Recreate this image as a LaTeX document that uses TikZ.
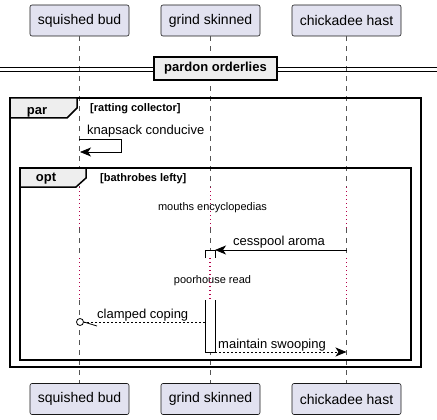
\documentclass[tikz,border=0pt]{standalone}
\usepackage{fontspec}
\setmainfont{Liberation Sans}
\usetikzlibrary{arrows.meta}
\definecolor{partfill}{HTML}{E2E2F0}
\definecolor{partdraw}{HTML}{181818}
\definecolor{tabfill}{HTML}{EEEEEE}
\definecolor{delaycol}{HTML}{B4004A}
\definecolor{lifecol}{HTML}{555555}
\begin{document}
\begin{tikzpicture}[x=1pt,y=-1pt,
  part/.style={draw=partdraw, line width=0.6pt, fill=partfill, rounded corners=2pt,
    minimum height=31pt, inner sep=0pt, font=\fontsize{14}{16}\selectfont},
  lifeline/.style={draw=lifecol, line width=0.6pt, dash pattern=on 5pt off 5pt},
  delayline/.style={draw=delaycol, line width=1.1pt, dash pattern=on 1.1pt off 2.9pt},
  frame/.style={draw=black, line width=1.5pt},
  tab/.style={draw=black, line width=1.5pt, fill=tabfill},
  msg/.style={draw=black, line width=0.8pt},
  rmsg/.style={draw=black, line width=0.8pt, dash pattern=on 2pt off 2pt},
  tip/.style={-{Stealth[length=11pt,width=9pt,inset=3pt]}},
  lbl/.style={anchor=base west, inner sep=0pt, font=\fontsize{13}{15}\selectfont},
  cond/.style={anchor=base west, inner sep=0pt, font=\fontsize{11}{13}\selectfont\bfseries},
  dlbl/.style={anchor=base, inner sep=0pt, font=\fontsize{11}{13}\selectfont},
  tabtxt/.style={anchor=base, inner sep=0pt, font=\fontsize{13}{15}\selectfont\bfseries},
  act/.style={draw=black, line width=0.8pt, fill=white}
]
\useasboundingbox (0,0) rectangle (437,420);

% participants
\node[part, minimum width=99pt] (p1) at (79.5,20.5) {squished bud};
\node[part, minimum width=99pt] (p2) at (210.5,20.5) {grind skinned};
\node[part, minimum width=109pt] (p3) at (346.5,20.5) {chickadee hast};
\node[part, minimum width=99pt] (q1) at (79.5,399) {squished bud};
\node[part, minimum width=99pt] (q2) at (210.5,399) {grind skinned};
\node[part, minimum width=109pt] (q3) at (346.5,399) {chickadee hast};

% delay boundaries
\coordinate (da) at (0,187);
\coordinate (db) at (0,228);
\coordinate (dc) at (0,258);
\coordinate (dd) at (0,300);

% lifelines
\foreach \p/\q in {p1/q1,p2/q2,p3/q3}{
  \draw[lifeline] (\p.south) -- (\p.south |- da);
  \draw[delayline] (\p.south |- da) -- (\p.south |- db);
  \draw[lifeline] (\p.south |- db) -- (\p.south |- dc);
  \draw[delayline] (\p.south |- dc) -- (\p.south |- dd);
  \draw[lifeline] (\p.south |- dd) -- (\q.north);
}

% divider
\draw[line width=0.9pt] (0,67) -- (437,67) (0,71.5) -- (437,71.5);
\node[draw=black, line width=1.6pt, fill=tabfill, minimum width=123pt, minimum height=23pt,
  inner sep=0pt, font=\fontsize{13}{15}\selectfont\bfseries] (div) at (215.5,68.5) {pardon orderlies};

% par frame
\draw[frame] (10,98) rectangle (421,367);
\draw[tab] (10,98) -- (77,98) -- (77,108) -- (67,118) -- (10,118) -- cycle;
\node[tabtxt] (partxt) at (37,114) {par};
\node[cond] (parcond) at (90,111) {[ratting collector]};

% self message
\coordinate (s1) at (79,139);
\coordinate (s2) at (121,139);
\coordinate (s3) at (121,152);
\coordinate (s4) at (80,152);
\node[lbl] (m1) at (87,135) {knapsack conducive};
\draw[msg, tip] (s1) -- (s2) -- (s3) -- (s4);

% opt frame
\draw[frame] (20,168) rectangle (411,360);
\draw[tab] (20,168) -- (86,168) -- (86,178) -- (76,187) -- (20,187) -- cycle;
\node[tabtxt] (opttxt) at (46,182) {opt};
\node[cond] (optcond) at (100,182) {[bathrobes lefty]};

% delay texts
\node[dlbl] (d1) at (212.5,210) {mouths encyclopedias};
\node[dlbl] (d2) at (212.5,283) {poorhouse read};

% activation
\filldraw[act] (205,258) -- (205,250) -- (215,250) -- (215,258);
\draw[delayline] (210,258) -- (210,300);
\filldraw[act] (205,300) -- (205,352) -- (215,352) -- (215,300);
\coordinate (a1) at (215,250);
\coordinate (a2) at (205,322);
\coordinate (a3) at (215,352);

% cesspool aroma
\coordinate (c3) at (p3.south |- a1);
\node[lbl] (m2) at (233,245) {cesspool aroma};
\draw[msg, tip] (c3) -- (a1);

% clamped coping
\coordinate (cc) at (80,322);
\node[circle, draw=black, line width=0.8pt, minimum size=7pt, inner sep=0pt, fill=white] (circ) at (cc) {};
\node[lbl] (m3) at (97,318) {clamped coping};
\draw[rmsg] (a2) -- (circ.east);
\coordinate (hh) at (97,326);
\draw[msg] (circ.east) -- (hh);

% maintain swooping
\coordinate (c4) at (p3.south |- a3);
\node[lbl] (m4) at (218,348) {maintain swooping};
\draw[rmsg, tip] (a3) -- (c4);
\end{tikzpicture}
\end{document}
